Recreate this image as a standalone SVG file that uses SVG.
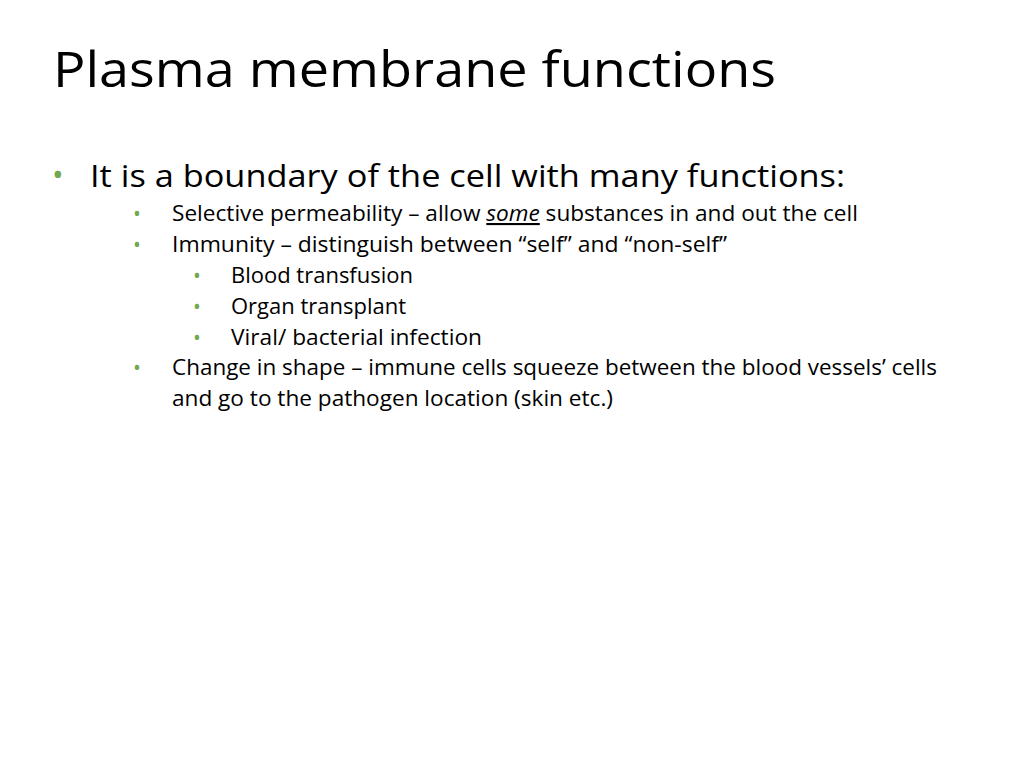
<svg xmlns="http://www.w3.org/2000/svg" width="1024" height="768" viewBox="0 0 1024 768">
<style>
text{font-family:"Open Sans","Liberation Sans",sans-serif;fill:#000}
.t{font-size:50px}
.l1{font-size:31px}
.l2{font-size:21px}
.b{fill:#71a850}
</style>
<rect width="1024" height="768" fill="#fff"/>
<g id="title"><text class="t" x="53" y="87" textLength="723" lengthAdjust="spacingAndGlyphs">Plasma membrane functions</text></g>
<g id="body">
<text class="l1 b" x="52" y="186">•</text>
<text class="l1" x="90" y="187" textLength="755" lengthAdjust="spacingAndGlyphs">It is a boundary of the cell with many functions:</text>
<text class="l2 b" x="133" y="221">•</text>
<text class="l2" x="172" y="221" textLength="686" lengthAdjust="spacingAndGlyphs">Selective permeability – allow <tspan font-style="italic" text-decoration="underline">some</tspan> substances in and out the cell</text>
<text class="l2 b" x="133" y="252">•</text>
<text class="l2" x="172" y="252" textLength="555" lengthAdjust="spacingAndGlyphs">Immunity – distinguish between “self” and “non-self”</text>
<text class="l2 b" x="193" y="283">•</text>
<text class="l2" x="231" y="283" textLength="182" lengthAdjust="spacingAndGlyphs">Blood transfusion</text>
<text class="l2 b" x="193" y="314">•</text>
<text class="l2" x="231" y="314" textLength="175" lengthAdjust="spacingAndGlyphs">Organ transplant</text>
<text class="l2 b" x="193" y="345">•</text>
<text class="l2" x="231" y="345" textLength="251" lengthAdjust="spacingAndGlyphs">Viral/ bacterial infection</text>
<text class="l2 b" x="133" y="375">•</text>
<text class="l2" x="172" y="375" textLength="765" lengthAdjust="spacingAndGlyphs">Change in shape – immune cells squeeze between the blood vessels’ cells</text>
<text class="l2" x="172" y="406" textLength="441" lengthAdjust="spacingAndGlyphs">and go to the pathogen location (skin etc.)</text>
</g>
</svg>
